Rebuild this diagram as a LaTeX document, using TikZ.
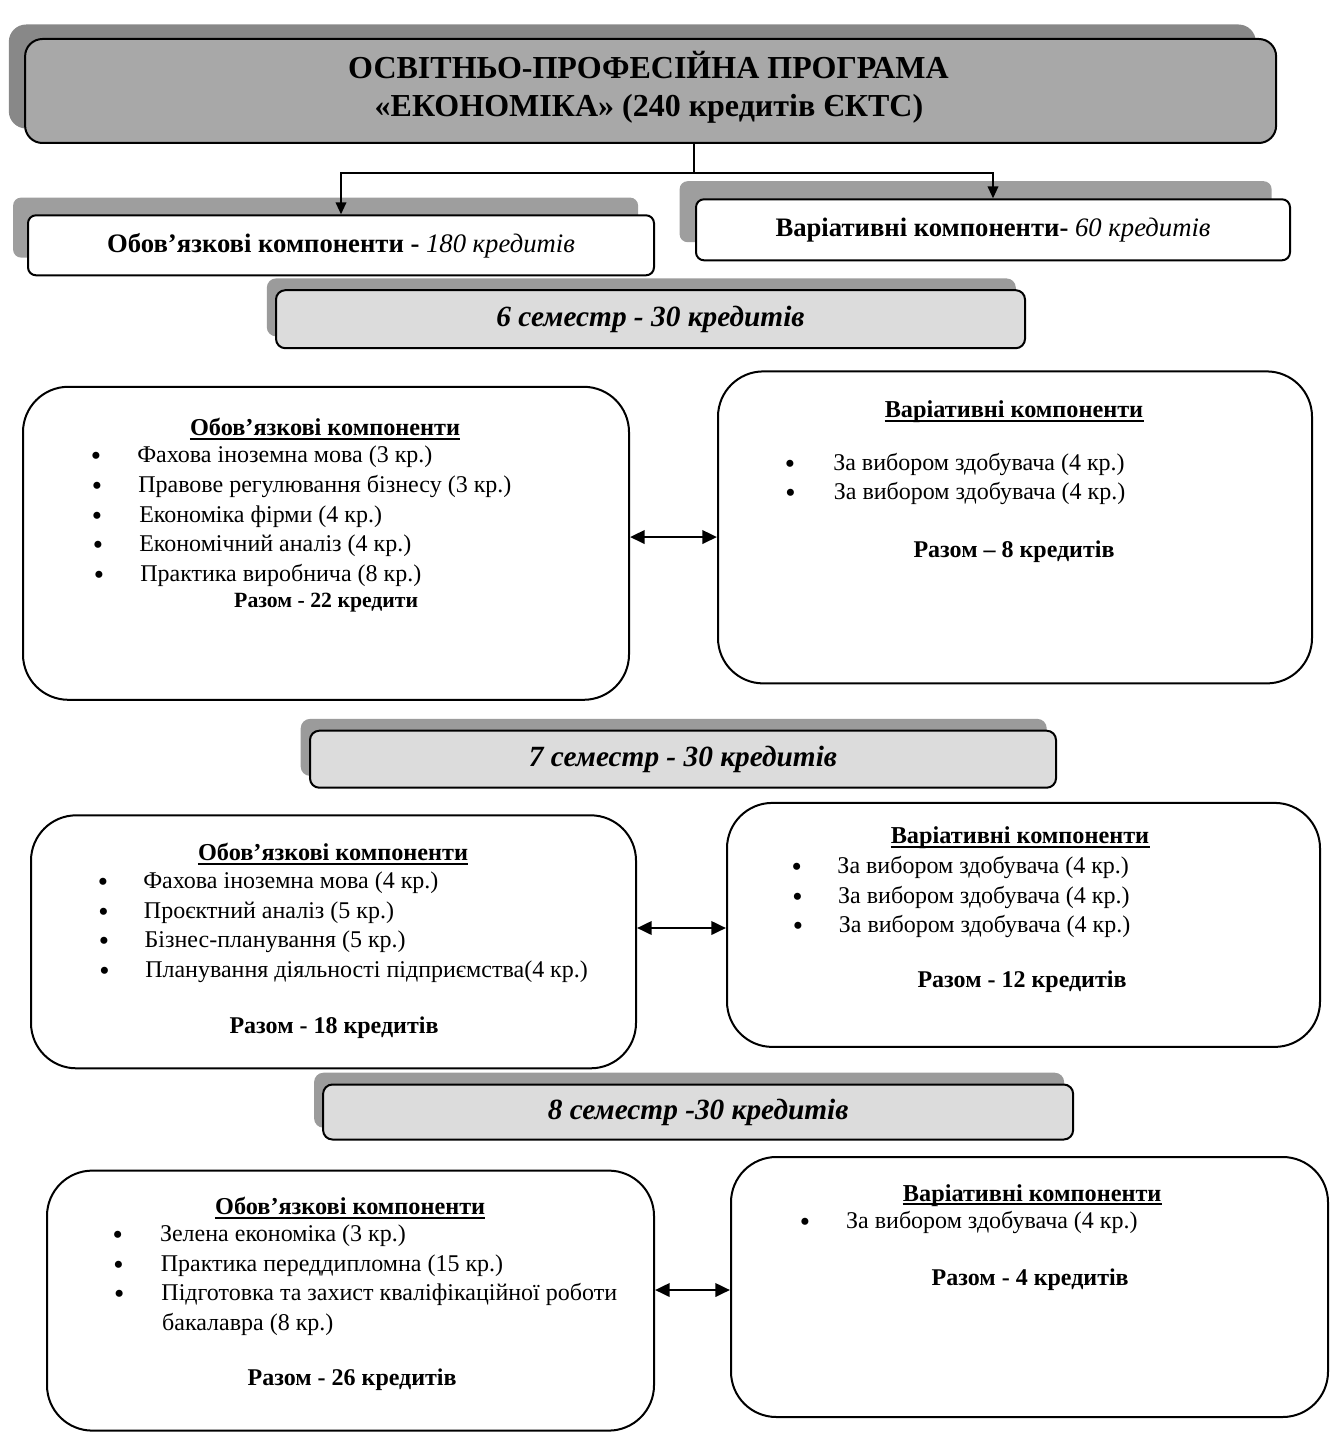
\documentclass[tikz,border=0pt]{standalone}
\usepackage{fontspec}
\setmainfont{Liberation Serif}
\usetikzlibrary{arrows.meta}
\definecolor{titlefill}{RGB}{168,168,168}
\definecolor{titleshade}{RGB}{136,136,136}
\definecolor{semfill}{RGB}{220,220,220}
\definecolor{semshade}{RGB}{155,155,155}
\definecolor{boxshade}{RGB}{158,158,158}
\begin{document}
\begin{tikzpicture}[x=0.75pt,y=-0.75pt,
  outline/.style={draw=black, line width=1.5pt},
  titlebox/.style={outline, fill=titlefill, rounded corners=13pt, inner sep=0pt},
  titleshadow/.style={fill=titleshade, rounded corners=13pt, inner sep=0pt},
  titletext/.style={anchor=mid, inner sep=0pt, text height=18pt, text depth=5pt, font=\bfseries\fontsize{24}{28}\selectfont},
  headbox/.style={outline, fill=white, rounded corners=6pt, inner sep=0pt, font=\fontsize{20}{24}\selectfont},
  headshadow/.style={fill=boxshade, rounded corners=6pt, inner sep=0pt},
  sembox/.style={outline, fill=semfill, rounded corners=7pt, inner sep=0pt, font=\bfseries\itshape\fontsize{22}{26}\selectfont},
  semshadow/.style={fill=semshade, rounded corners=7pt, inner sep=0pt},
  bigbox/.style={outline, fill=white, rounded corners=34pt, inner sep=0pt},
  itemtext/.style={anchor=mid west, inner sep=0pt, text height=12pt, text depth=4pt, font=\fontsize{18}{21}\selectfont},
  bul/.style={anchor=mid, inner sep=0pt, yshift=-2.2pt, text height=8pt, text depth=0pt, font=\fontsize{22}{22}\selectfont},
  heading/.style={anchor=mid, inner sep=0pt, text height=12pt, text depth=4pt, font=\bfseries\fontsize{18.2}{21}\selectfont},
  total/.style={anchor=mid, inner sep=0pt, text height=12pt, text depth=4pt, font=\bfseries\fontsize{18}{21}\selectfont},
  uline/.style={draw=black, line width=1.3pt},
  conn/.style={draw=black, line width=1.3pt},
  dbl/.style={draw=black, line width=2pt, {Triangle[length=11pt,width=10pt]}-{Triangle[length=11pt,width=10pt]}}
]
\useasboundingbox (0,0) rectangle (1336,1434);
% title
\node[titleshadow, minimum width={1247*0.75pt}, minimum height={104*0.75pt}] (titlesh) at (632.3,76.5) {};
\node[titlebox, minimum width={1251*0.75pt}, minimum height={104*0.75pt}] (title) at (650.6,91) {};
\node[titletext] (title1) at (648.5,75) {ОСВІТНЬО-ПРОФЕСІЙНА ПРОГРАМА};
\node[titletext] (title2) at (649,113) {«ЕКОНОМІКА» (240 кредитів ЄКТС)};
% top level boxes
\node[headshadow, minimum width={625*0.75pt}, minimum height={60*0.75pt}] (h180sh) at (325.6,227.6) {};
\node[headbox, minimum width={626*0.75pt}, minimum height={60*0.75pt}] (h180) at (341,245.3) {\textbf{Обов’язкові компоненти -} \textit{180 кредитів}};
\node[headshadow, minimum width={592*0.75pt}, minimum height={61*0.75pt}] (h60sh) at (975.6,211.7) {};
\node[headbox, minimum width={594*0.75pt}, minimum height={61*0.75pt}] (h60) at (993,229.8) {\textbf{Варіативні компоненти-} \textit{60 кредитів}};
\draw[conn] ([xshift=32.5pt]title.south) -- ++(0,29) coordinate (split);
\draw[conn, -{Triangle[length=9pt,width=8pt]}] (split) -| (h180.north);
\draw[conn, -{Triangle[length=9pt,width=8pt]}] (split) -| (h60.north);
% semester 6
\node[semshadow, minimum width={749*0.75pt}, minimum height={58*0.75pt}] (s6sh) at (641.3,307.4) {};
\node[sembox, minimum width={749*0.75pt}, minimum height={58*0.75pt}] (s6) at (650.5,319.2) {6 семестр - 30 кредитів};
\node[bigbox, minimum width={606*0.75pt}, minimum height={313*0.75pt}] (b6L) at (326,543.3) {};
\node[bigbox, minimum width={594*0.75pt}, minimum height={312*0.75pt}] (b6R) at (1015,527.4) {};
\draw[dbl] ([yshift=4.7pt]b6L.east) -- ([yshift=4.7pt]b6L.east -| b6R.west);
\node[heading] (b6Lh) at (325.1,432.8) {Обов’язкові компоненти\ };
\draw[uline] ([yshift=-2.4pt]b6Lh.base west) -- ([yshift=-2.4pt]b6Lh.base east);
\node[bul] (b6Lb1) at (96,459.8) {•};
\node[itemtext] (b6Lt1) at (137,459.8) {Фахова іноземна мова (3 кр.)};
\node[bul] (b6Lb2) at (97,489.3) {•};
\node[itemtext] (b6Lt2) at (138,489.3) {Правове регулювання бізнесу (3 кр.)};
\node[bul] (b6Lb3) at (97,519.3) {•};
\node[itemtext] (b6Lt3) at (139,519.3) {Економіка фірми (4 кр.)};
\node[bul] (b6Lb4) at (98,548.8) {•};
\node[itemtext] (b6Lt4) at (139,548.8) {Економічний аналіз (4 кр.)};
\node[bul] (b6Lb5) at (99,578.3) {•};
\node[itemtext] (b6Lt5) at (140,578.3) {Практика виробнича (8 кр.)};
\node[total, font=\bfseries\fontsize{16.3}{20}\selectfont] (b6Ls) at (326.2,604.8) {Разом - 22 кредити};
\node[heading] (b6Rh) at (1014,414.9) {Варіативні компоненти\ };
\draw[uline] ([yshift=-2.4pt]b6Rh.base west) -- ([yshift=-2.4pt]b6Rh.base east);
\node[bul] (b6Rb1) at (790,467.9) {•};
\node[itemtext] (b6Rt1) at (833,467.9) {За вибором здобувача (4 кр.)};
\node[bul] (b6Rb2) at (790.6,496.9) {•};
\node[itemtext] (b6Rt2) at (833.6,496.9) {За вибором здобувача (4 кр.)};
\node[total] (b6Rs) at (1014,554.9) {Разом – 8 кредитів};
% semester 7
\node[semshadow, minimum width={746*0.75pt}, minimum height={57*0.75pt}] (s7sh) at (673.7,747.4) {};
\node[sembox, minimum width={746*0.75pt}, minimum height={57*0.75pt}] (s7) at (683,759.2) {7 семестр - 30 кредитів};
\node[bigbox, minimum width={605*0.75pt}, minimum height={253*0.75pt}] (b7L) at (333.5,941.8) {};
\node[bigbox, minimum width={593*0.75pt}, minimum height={244*0.75pt}] (b7R) at (1023.5,924.9) {};
\draw[dbl] ([yshift=10.35pt]b7L.east) -- ([yshift=10.35pt]b7L.east -| b7R.west);
\node[heading] (b7Lh) at (333.1,857.8) {Обов’язкові компоненти\ };
\draw[uline] ([yshift=-2.4pt]b7Lh.base west) -- ([yshift=-2.4pt]b7Lh.base east);
\node[bul] (b7Lb1) at (103,885.8) {•};
\node[itemtext] (b7Lt1) at (143,885.8) {Фахова іноземна мова (4 кр.)};
\node[bul] (b7Lb2) at (103.5,915.3) {•};
\node[itemtext] (b7Lt2) at (143.7,915.3) {Проєктний аналіз (5 кр.)};
\node[bul] (b7Lb3) at (104,944.8) {•};
\node[itemtext] (b7Lt3) at (144.4,944.8) {Бізнес-планування (5 кр.)};
\node[bul] (b7Lb4) at (104.5,974.3) {•};
\node[itemtext] (b7Lt4) at (145,974.3) {Планування діяльності підприємства(4 кр.)};
\node[total] (b7Ls) at (334,1030.8) {Разом - 18 кредитів};
\node[heading] (b7Rh) at (1020,840.9) {Варіативні компоненти\ };
\draw[uline] ([yshift=-2.4pt]b7Rh.base west) -- ([yshift=-2.4pt]b7Rh.base east);
\node[bul] (b7Rb1) at (796.7,870.9) {•};
\node[itemtext] (b7Rt1) at (837.2,870.9) {За вибором здобувача (4 кр.)};
\node[bul] (b7Rb2) at (797.4,900.4) {•};
\node[itemtext] (b7Rt2) at (837.9,900.4) {За вибором здобувача (4 кр.)};
\node[bul] (b7Rb3) at (798,929.9) {•};
\node[itemtext] (b7Rt3) at (838.6,929.9) {За вибором здобувача (4 кр.)};
\node[total] (b7Rs) at (1022,984.9) {Разом - 12 кредитів};
% semester 8
\node[semshadow, minimum width={750*0.75pt}, minimum height={55*0.75pt}] (s8sh) at (689.1,1100.2) {};
\node[sembox, minimum width={750*0.75pt}, minimum height={55*0.75pt}] (s8) at (698.1,1112) {8 семестр -30 кредитів};
\node[bigbox, minimum width={607*0.75pt}, minimum height={260*0.75pt}] (b8L) at (350.5,1300.6) {};
\node[bigbox, minimum width={597*0.75pt}, minimum height={260*0.75pt}] (b8R) at (1029.5,1287) {};
\draw[dbl] ([yshift=7.95pt]b8L.east) -- ([yshift=7.95pt]b8L.east -| b8R.west);
\node[heading] (b8Lh) at (350.2,1211.6) {Обов’язкові компоненти\ };
\draw[uline] ([yshift=-2.4pt]b8Lh.base west) -- ([yshift=-2.4pt]b8Lh.base east);
\node[bul] (b8Lb1) at (117.8,1238.6) {•};
\node[itemtext] (b8Lt1) at (159.8,1238.6) {Зелена економіка (3 кр.)};
\node[bul] (b8Lb2) at (118.5,1268.1) {•};
\node[itemtext] (b8Lt2) at (160.5,1268.1) {Практика переддипломна (15 кр.)};
\node[bul] (b8Lb3) at (119.2,1297.6) {•};
\node[itemtext] (b8Lt3) at (161.2,1297.6) {Підготовка та захист кваліфікаційної роботи};
\node[itemtext] (b8Lt4) at (161.9,1327.6) {бакалавра (8 кр.)};
\node[total] (b8Ls) at (352.1,1382.6) {Разом - 26 кредитів};
\node[heading] (b8Rh) at (1032.2,1198) {Варіативні компоненти\ };
\draw[uline] ([yshift=-2.4pt]b8Rh.base west) -- ([yshift=-2.4pt]b8Rh.base east);
\node[bul] (b8Rb1) at (804.9,1225) {•};
\node[itemtext] (b8Rt1) at (845.9,1225) {За вибором здобувача (4 кр.)};
\node[total] (b8Rs) at (1030.2,1282) {Разом - 4 кредитів};
\end{tikzpicture}
\end{document}
